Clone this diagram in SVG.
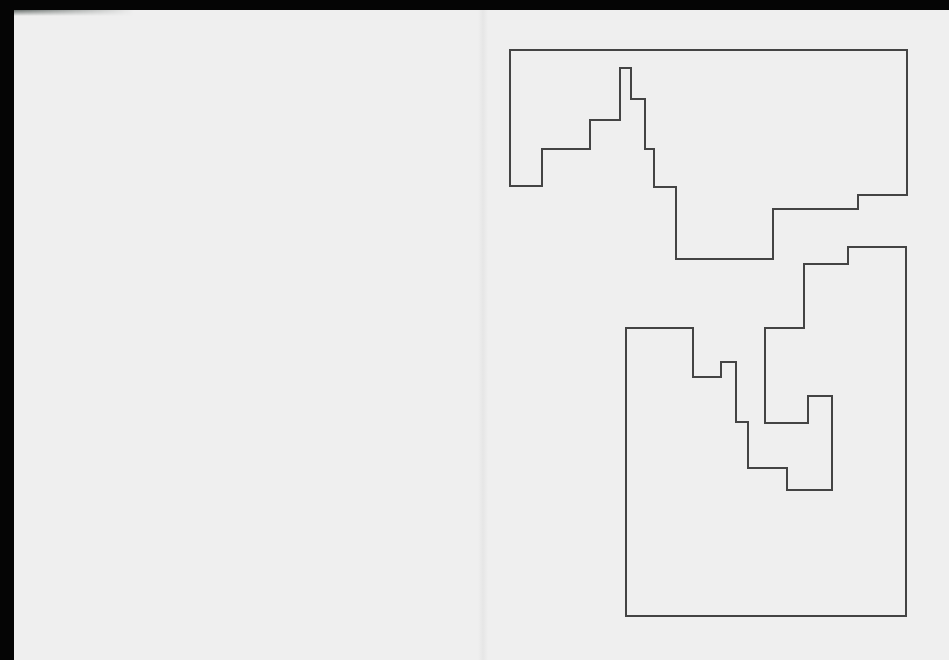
<svg xmlns="http://www.w3.org/2000/svg" width="949" height="660" viewBox="0 0 949 660">
  <defs>
    <style>
      .outline { fill: none; stroke: #444444; stroke-width: 2; stroke-linejoin: miter; }
    </style>
    <linearGradient id="topShade" x1="0" y1="0" x2="0" y2="1">
      <stop offset="0" stop-color="#3a4440"/>
      <stop offset="1" stop-color="#efefef"/>
    </linearGradient>
    <linearGradient id="topFade" x1="0" y1="0" x2="1" y2="0">
      <stop offset="0" stop-color="#fff" stop-opacity="1"/>
      <stop offset="1" stop-color="#fff" stop-opacity="0"/>
    </linearGradient>
    <mask id="fadeMask">
      <rect x="14" y="8" width="120" height="8" fill="url(#topFade)"/>
    </mask>
    <linearGradient id="gutter" x1="0" y1="0" x2="1" y2="0">
      <stop offset="0" stop-color="#efefef"/>
      <stop offset="0.5" stop-color="#e6e6e6"/>
      <stop offset="1" stop-color="#efefef"/>
    </linearGradient>
  </defs>
  <rect x="0" y="0" width="949" height="660" fill="#efefef"/>
  <rect x="478" y="0" width="10" height="660" fill="url(#gutter)"/>
  <rect x="14" y="8" width="120" height="8" fill="url(#topShade)" mask="url(#fadeMask)"/>
  <rect x="0" y="0" width="949" height="10" fill="#050505"/>
  <rect x="0" y="0" width="14" height="660" fill="#050505"/>
  <g id="upper-shape">
    <path class="outline" d="M510,50 L907,50 L907,195 L858,195 L858,209 L773,209 L773,259 L676,259 L676,187 L654,187 L654,149 L645,149 L645,99 L631,99 L631,68 L620,68 L620,120 L590,120 L590,149 L542,149 L542,186 L510,186 Z"/>
  </g>
  <g id="lower-shape">
    <path class="outline" d="M626,328 L693,328 L693,377 L721,377 L721,362 L736,362 L736,422 L748,422 L748,468 L787,468 L787,490 L832,490 L832,396 L808,396 L808,423 L765,423 L765,328 L804,328 L804,264 L848,264 L848,247 L906,247 L906,616 L626,616 Z"/>
  </g>
</svg>
